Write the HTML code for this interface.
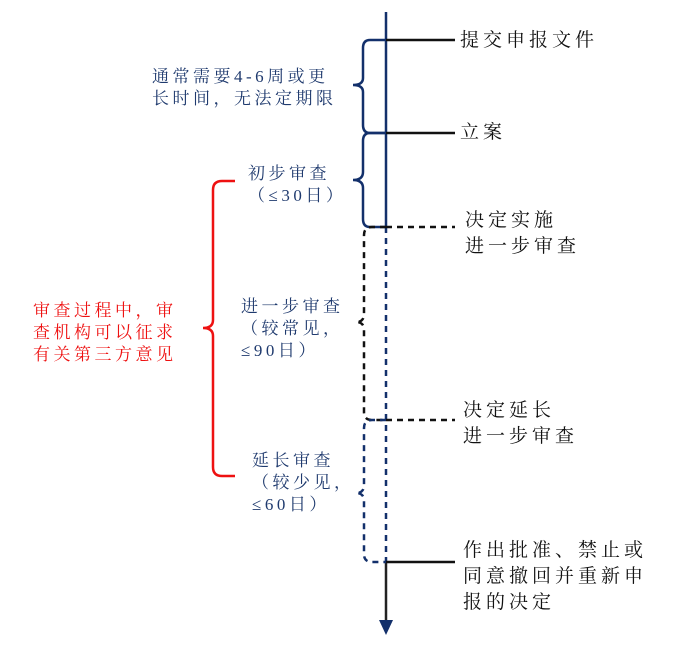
<!DOCTYPE html>
<html><head><meta charset="utf-8"><style>
html,body{margin:0;padding:0;background:#fff;}
body{width:687px;height:649px;position:relative;overflow:hidden;}
.t{position:absolute;font-family:"Liberation Serif","Noto Serif CJK SC",serif;color:#1f3a6e;font-size:17px;line-height:22px;white-space:nowrap;letter-spacing:3.5px;}
.r{color:#ee1111;}
.b{color:#111;font-size:19px;line-height:26px;letter-spacing:4px;}
</style></head><body>
<svg width="687" height="649" style="position:absolute;left:0;top:0">
<g fill="none" stroke-width="2.5">
<line x1="386" y1="12" x2="386" y2="227" stroke="#13306b"/>
<line x1="386" y1="227" x2="386" y2="562" stroke="#13306b" stroke-dasharray="6,5"/>
<line x1="386" y1="562" x2="386" y2="622" stroke="#222"/>
<line x1="386" y1="40" x2="455" y2="40" stroke="#111"/>
<line x1="386" y1="133" x2="455" y2="133" stroke="#111"/>
<line x1="386" y1="227" x2="455" y2="227" stroke="#111" stroke-dasharray="6,5"/>
<line x1="386" y1="420" x2="455" y2="420" stroke="#111" stroke-dasharray="6,5"/>
<line x1="386" y1="562" x2="455" y2="562" stroke="#111"/>
<path d="M386 40 H370 Q363 40 363 48 V78 Q363 85 353 85 Q363 85 363 92 V125 Q363 133 370 133 H386" stroke="#13306b"/>
<path d="M386 133 H370 Q363 133 363 141 V172 Q363 180 353 180 Q363 180 363 188 V219 Q363 227 370 227 H386" stroke="#13306b"/>
<path d="M386 227 H372 Q364 227 364 235 V314 Q364 322 356 322 Q364 322 364 330 V412 Q364 420 372 420 H386" stroke="#111" stroke-dasharray="6,5"/>
<path d="M386 420 H372 Q364 420 364 428 V485 Q364 493 356 493 Q364 493 364 501 V554 Q364 562 372 562 H386" stroke="#13306b" stroke-dasharray="6,5"/>
<path d="M235 181 H222 Q213 181 213 190 V320 Q213 328 203 328 Q213 328 213 336 V467 Q213 476 222 476 H235" stroke="#ee1111"/>
</g>
<polygon points="379,620 393,620 386,635" fill="#13306b"/>
</svg>
<div class="t" style="left:152px;top:66px">通常需要4-6周或更<br>长时间，无法定期限</div>
<div class="t" style="left:248px;top:163px">初步审查<br>（≤30日）</div>
<div class="t" style="left:241px;top:296px">进一步审查<br>（较常见，<br>≤90日）</div>
<div class="t" style="left:252px;top:450px">延长审查<br>（较少见，<br>≤60日）</div>
<div class="t r" style="left:33px;top:300px">审查过程中，审<br>查机构可以征求<br>有关第三方意见</div>
<div class="t b" style="left:460px;top:28px">提交申报文件</div>
<div class="t b" style="left:460px;top:120px">立案</div>
<div class="t b" style="left:465px;top:208px">决定实施<br>进一步审查</div>
<div class="t b" style="left:463px;top:398px">决定延长<br>进一步审查</div>
<div class="t b" style="left:463px;top:538px">作出批准、禁止或<br>同意撤回并重新申<br>报的决定</div>
</body></html>
